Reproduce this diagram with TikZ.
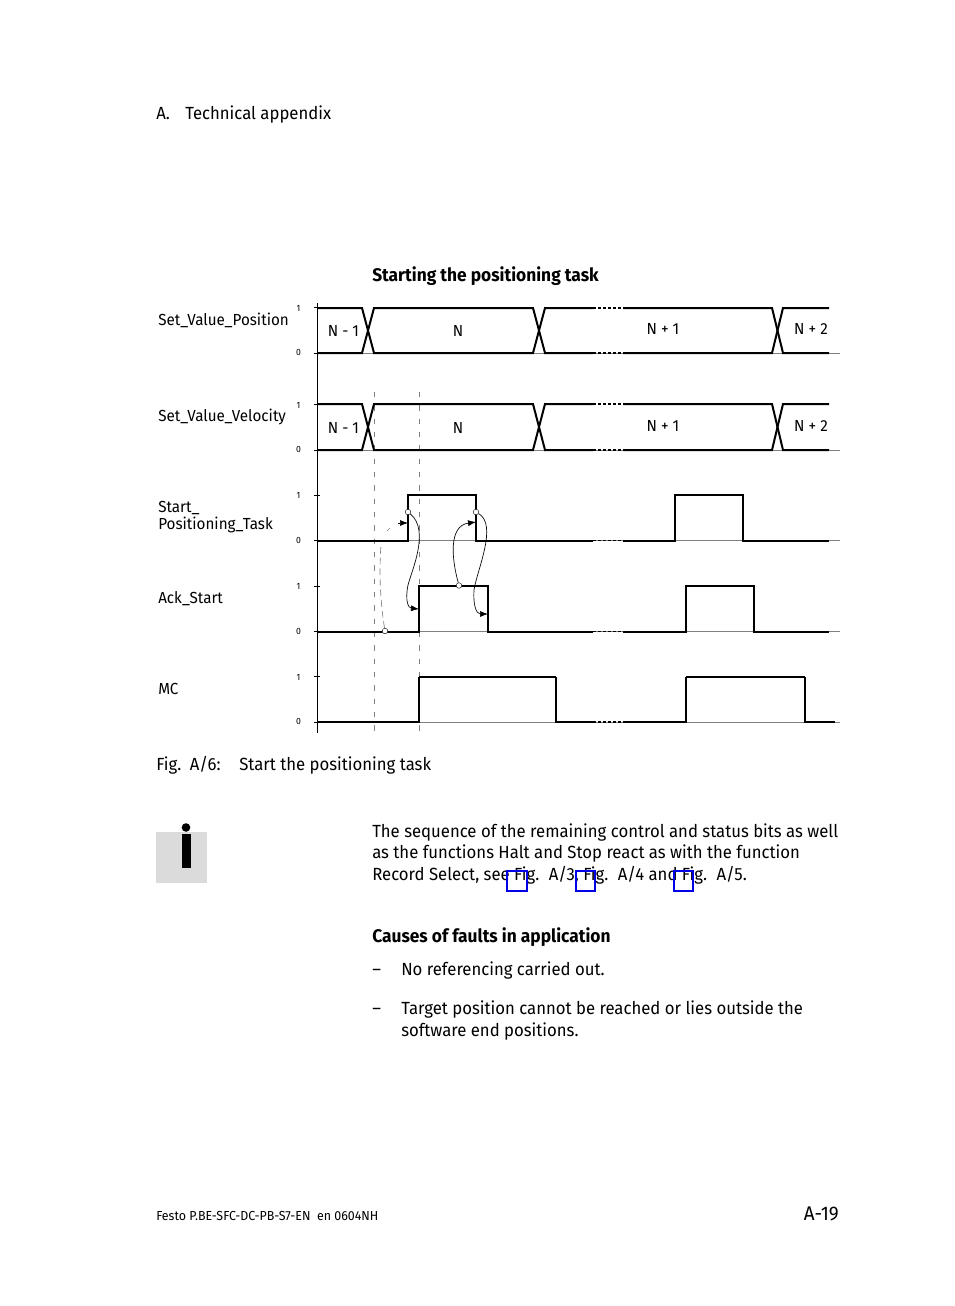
\documentclass[tikz,border=0pt]{standalone}
\usepackage{fontspec}
\setmainfont{Fira Sans}[FakeStretch=0.95]
\usetikzlibrary{arrows.meta,calc}
\definecolor{refblue}{RGB}{0,0,230}
\tikzset{
	txt/.style={anchor=base west,inner sep=0pt,font=\fontsize{13.2}{15}\selectfont},
	boldtxt/.style={txt,font=\fontsize{13.7}{15}\selectfont\bfseries},
	lab/.style={anchor=base west,inner sep=0pt,font=\fontsize{12}{14}\selectfont},
	bit/.style={inner sep=0pt,font=\fontsize{6.8}{8}\selectfont},
	sig/.style={line width=1.5pt,line join=miter},
	base/.style={gray,line width=0.5pt},
	gap/.style={line width=1.4pt,dash pattern=on 2.5pt off 1.2pt},
	guide/.style={gray,line width=0.5pt,dash pattern=on 4pt off 6pt},
	dot/.style={circle,draw=black,fill=white,line width=0.3pt,inner sep=0pt,minimum size=4.2pt},
	link/.style={-{Latex[length=6pt,width=4.5pt]},line width=0.5pt},
	linkb/.style={gray,line width=0.5pt,dash pattern=on 5pt off 3pt}
}
\begin{document}
\begin{tikzpicture}[x=0.75pt,y=-0.75pt]
		\useasboundingbox (0,0) rectangle (954,1306);
		% Page header
		\node[txt] (hdA) at (156,119) {A.};
		\node[txt] (hdB) at (185,119) {Technical appendix};
		\node[boldtxt] (title) at (372,281) {Starting the positioning task};
		% Baselines and ticks
		\foreach \y in {353,450,540.5,631.5,722}{
				\draw[base] (317,\y)--(840,\y);
				\draw[line width=0.4pt] (314,\y)--++(6,0);
				\draw[line width=0.4pt] (314,\y-45.5)--++(6,0);
				\node[bit] at (298.5,\y-0.5) {0};
				\node[bit] at (298.5,\y-45) {1};
			}
		% Axis and guides
		\draw[line width=0.6pt] (317.5,303)--(317.5,733);
		\draw[guide] (374.5,392)--(374.5,735);
		\draw[guide] (419.5,392)--(419.5,735);
		% Bus rows
		\foreach \t/\b in {308/353,404/450}{
				\draw[sig] (317,\t)--(362,\t)--(374,\b)--(533,\b)--(545,\t)--(593,\t);
				\draw[sig] (317,\b)--(362,\b)--(374,\t)--(533,\t)--(545,\b)--(593,\b);
				\draw[gap] (593,\t)--(623,\t);
				\draw[gap] (593,\b)--(623,\b);
				\draw[sig] (623,\t)--(772,\t)--(783,\b)--(829,\b);
				\draw[sig] (623,\b)--(772,\b)--(783,\t)--(829,\t);
			}
		\foreach \y/\m in {330/a,427/b}{
				\node[lab,anchor=center] (n1\m) at (343.5,\y+1) {N - 1};
				\node[lab,anchor=center] (n2\m) at (458,\y+1) {N};
				\node[lab,anchor=center] (n3\m) at (663,\y-1) {N + 1};
				\node[lab,anchor=center] (n4\m) at (811,\y-1) {N + 2};
			}
		% Start_Positioning_Task
		\draw[sig] (317,540.5)-|(408,495)-|(476,540.5)--(593,540.5);
		\draw[gap] (593,540.5)--(623,540.5);
		\draw[sig] (623,540.5)-|(675,495)-|(743,540.5)--(829,540.5);
		% Ack_Start
		\draw[sig] (317,631.5)-|(419,586)-|(488,631.5)--(593,631.5);
		\draw[gap] (593,631.5)--(623,631.5);
		\draw[sig] (623,631.5)-|(686,586)-|(754,631.5)--(829,631.5);
		% MC
		\draw[sig] (317,722)-|(419,677);
		\draw[line width=0.9pt] (419,677)--(556,677);
		\draw[sig] (556,677)|-(593,722);
		\draw[gap] (593,722)--(623,722);
		\draw[sig] (623,722)-|(686,677);
		\draw[line width=0.9pt] (686,677)--(805,677);
		\draw[sig] (805,677)|-(835,722);
		% Signal names
		\node[lab] (sv1) at (158,325) {Set\_Value\_Position};
		\node[lab] (sv2) at (158,421) {Set\_Value\_Velocity};
		\node[lab] (st1) at (158,512) {Start\_};
		\node[lab] (st2) at (158,529) {Positioning\_Task};
		\node[lab] (ack) at (158,603) {Ack\_Start};
		\node[lab] (mc) at (158,694) {MC};
		% Cause and effect links
		\node[dot] (d1) at (408,512) {};
		\node[dot] (d2) at (476,512) {};
		\node[dot] (d3) at (459,585.5) {};
		\node[dot] (d4) at (385,631) {};
		\coordinate (t1) at (408,523);
		\coordinate (t2) at (476,522);
		\coordinate (t3) at (419,609);
		\coordinate (t4) at (488,614);
		\coordinate (e1) at (381,545);
		\coordinate (e2) at (387,531);
		\coordinate (e3) at (390,528);
		\coordinate (e4) at (398,523);
		\draw[link] (d1) .. controls (430,530) and (412,570) .. (408,585) .. controls (405,600) and (408,608) .. (t3);
		\draw[link] (d2) .. controls (498,525) and (477,570) .. (474,590) .. controls (473,604) and (476,614) .. (t4);
		\draw[link] (d3) .. controls (452,560) and (448,526) .. (t2);
		\draw[linkb] (d4) .. controls (380,600) and (379,570) .. (e1);
		\draw[line width=0.4pt,gray] (e2)--(e3);
		\draw[link] (e4)--(t1);
		% Caption
		\node[txt] (figA) at (156,770) {Fig.\hspace{2pt} A/6:};
		\node[txt] (figB) at (239,770) {Start the positioning task};
		% Info icon
		\fill[gray!28] (156,832) rectangle (207,883);
		\fill[black] (186,827.5) circle (4.3);
		\fill[black] (181.5,834) rectangle (190.5,868);
		% Body text
		\node[txt] (p1) at (372,837) {The sequence of the remaining control and status bits as well};
		\node[txt] (p2) at (372,858) {as the functions Halt and Stop react as with the function};
		\node[txt] (p3) at (372,880) {Record Select, see Fig.\hspace{2.7pt} A/3, Fig.\hspace{2.7pt} A/4 and Fig.\hspace{2.7pt} A/5.};
		\foreach \x/\w in {507/20,576/19,674/19}{
				\draw[refblue,line width=1.5pt] (\x,870.5) rectangle ++(\w,20);
			}
		\node[boldtxt] (cs) at (372,942) {Causes of faults in application};
		\node[txt] (l1a) at (372,975) {--};
		\node[txt] (l1b) at (401,975) {No referencing carried out.};
		\node[txt] (l2a) at (372,1014) {--};
		\node[txt] (l2b) at (401,1014) {Target position cannot be reached or lies outside the};
		\node[txt] (l2c) at (401,1036) {software end positions.};
		% Footer
		\node[lab,font=\fontsize{9.8}{11}\selectfont] (ft) at (156,1220) {Festo P.BE-SFC-DC-PB-S7-EN\ \ en 0604NH};
		\node[txt,anchor=base east,font=\fontsize{14.8}{16}\selectfont] (pg) at (839,1220) {A-19};
	\end{tikzpicture}
\end{document}
